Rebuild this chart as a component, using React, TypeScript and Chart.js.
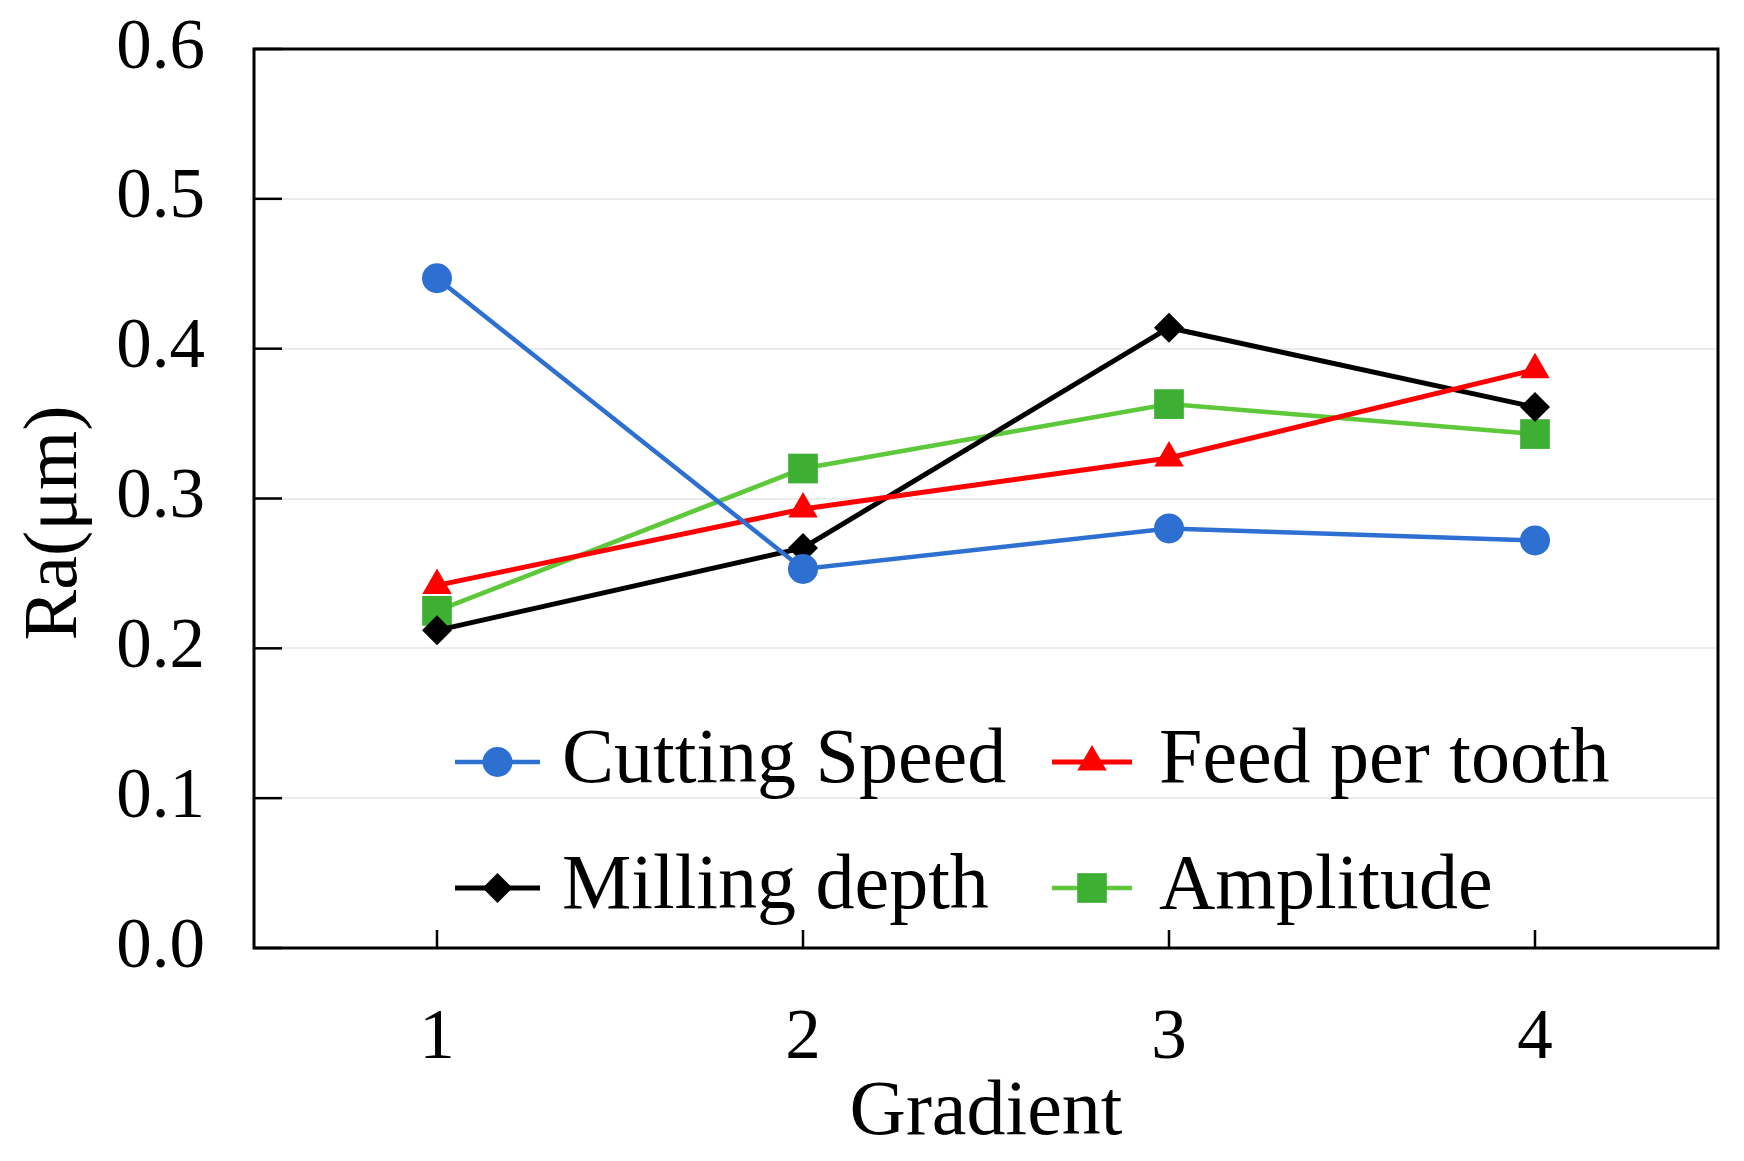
import React, { useEffect, useRef } from 'react';
import { Chart, registerables } from 'chart.js';

Chart.register(...registerables);

const categories = ['1', '2', '3', '4'];
const cuttingSpeed = [0.447, 0.253, 0.28, 0.272];
const feedPerTooth = [0.242, 0.293, 0.327, 0.386];
const millingDepth = [0.212, 0.267, 0.414, 0.361];
const amplitude = [0.225, 0.32, 0.363, 0.343];
const seriesNames = ['Cutting Speed', 'Feed per tooth', 'Milling depth', 'Amplitude'];
const yTitle = 'Ra(μm)';
const xTitle = 'Gradient';

const FONT = '"Liberation Serif", "Times New Roman", serif';

function drawMarker(ctx: CanvasRenderingContext2D, style: string, x: number, y: number, r: number, color: string) {
  ctx.save();
  ctx.fillStyle = color;
  ctx.beginPath();
  if (style === 'circle') {
    ctx.arc(x, y, r, 0, Math.PI * 2);
  } else if (style === 'triangle') {
    let rad = 0;
    ctx.moveTo(x + Math.sin(rad) * r, y - Math.cos(rad) * r);
    rad += (2 * Math.PI) / 3;
    ctx.lineTo(x + Math.sin(rad) * r, y - Math.cos(rad) * r);
    rad += (2 * Math.PI) / 3;
    ctx.lineTo(x + Math.sin(rad) * r, y - Math.cos(rad) * r);
    ctx.closePath();
  } else if (style === 'rectRot') {
    ctx.moveTo(x, y - r);
    ctx.lineTo(x + r, y);
    ctx.lineTo(x, y + r);
    ctx.lineTo(x - r, y);
    ctx.closePath();
  } else {
    const s = Math.SQRT1_2 * r;
    ctx.rect(x - s, y - s, 2 * s, 2 * s);
  }
  ctx.fill();
  ctx.restore();
}

const framePlugin = {
  id: 'frame',
  beforeDatasetsDraw(chart: any) {
    const { ctx, chartArea, scales } = chart;
    const { left, right, top, bottom } = chartArea;
    ctx.save();
    ctx.strokeStyle = '#000';
    ctx.lineWidth = 2.5;
    scales.y.ticks.forEach((t: any) => {
      const py = scales.y.getPixelForValue(t.value);
      ctx.beginPath();
      ctx.moveTo(left, py);
      ctx.lineTo(left + 28, py);
      ctx.stroke();
    });
    categories.forEach((_c, i) => {
      const px = scales.x.getPixelForValue(i);
      ctx.beginPath();
      ctx.moveTo(px, bottom);
      ctx.lineTo(px, bottom - 18);
      ctx.stroke();
    });
    ctx.lineWidth = 3;
    ctx.strokeRect(left, top, right - left, bottom - top);
    ctx.restore();
  },
};

const legendPlugin = {
  id: 'innerLegend',
  afterDraw(chart: any) {
    const { ctx } = chart;
    const cols = [
      { x0: 455, x1: 540, tx: 562 },
      { x0: 1052, x1: 1132, tx: 1159 },
    ];
    const rows = [762, 888];
    chart.data.datasets.forEach((ds: any, i: number) => {
      const c = cols[i % 2];
      const y = rows[Math.floor(i / 2)];
      ctx.save();
      ctx.strokeStyle = ds.borderColor;
      ctx.lineWidth = ds.borderWidth;
      ctx.beginPath();
      ctx.moveTo(c.x0, y);
      ctx.lineTo(c.x1, y);
      ctx.stroke();
      drawMarker(ctx, ds.pointStyle, (c.x0 + c.x1) / 2, y, ds.pointRadius, ds.pointBackgroundColor);
      ctx.fillStyle = '#000';
      ctx.font = `78px ${FONT}`;
      ctx.textBaseline = 'middle';
      ctx.textAlign = 'left';
      ctx.fillText(ds.label, c.tx, y);
      ctx.restore();
    });
  },
};

const yTitlePlugin = {
  id: 'yTitle',
  afterDraw(chart: any) {
    const { ctx } = chart;
    ctx.save();
    ctx.translate(56, 523);
    ctx.rotate(-Math.PI / 2);
    ctx.fillStyle = '#000';
    ctx.font = `76px ${FONT}`;
    ctx.textAlign = 'center';
    ctx.textBaseline = 'middle';
    ctx.fillText(yTitle, 0, 0);
    ctx.restore();
  },
};

export default function App() {
  const ref = useRef<HTMLCanvasElement | null>(null);

  useEffect(() => {
    document.body.style.margin = '0';
    if (!ref.current) return;
    const mk = (label: string, data: number[], line: string, fill: string, style: string, r: number, w: number) => ({
      label,
      data,
      borderColor: line,
      backgroundColor: fill,
      pointBackgroundColor: fill,
      pointBorderColor: fill,
      pointBorderWidth: 0,
      pointStyle: style,
      pointRadius: r,
      pointHoverRadius: r,
      borderWidth: w,
      tension: 0,
      fill: false,
    });
    const chart = new Chart(ref.current, {
      type: 'line',
      data: {
        labels: categories,
        datasets: [
          mk(seriesNames[0], cuttingSpeed, '#2e6fd2', '#2e6fd2', 'circle', 15, 4.5),
          mk(seriesNames[1], feedPerTooth, '#ff0000', '#ff0000', 'triangle', 17, 5),
          mk(seriesNames[2], millingDepth, '#000000', '#000000', 'rectRot', 15, 5),
          mk(seriesNames[3], amplitude, '#5cc83a', '#3db034', 'rect', 21, 4.5),
        ],
      },
      options: {
        animation: false,
        responsive: true,
        maintainAspectRatio: false,
        devicePixelRatio: 1,
        layout: { padding: { top: 49, right: 26, left: 0, bottom: 0 } },
        plugins: {
          legend: { display: false },
          tooltip: { enabled: false },
        },
        scales: {
          x: {
            type: 'category',
            offset: true,
            grid: { display: false, drawTicks: false },
            border: { display: false },
            ticks: {
              color: '#000',
              font: { family: FONT, size: 71 },
              padding: 49,
              maxRotation: 0,
              autoSkip: false,
            },
            title: {
              display: true,
              text: xTitle,
              color: '#000',
              font: { family: FONT, size: 78 },
              padding: { top: 0, bottom: 1 },
            },
            afterFit(scale: any) {
              scale.height = 213;
            },
          },
          y: {
            min: 0,
            max: 0.6,
            grid: {
              color: '#ebeded',
              lineWidth: 2,
              drawTicks: true,
              tickLength: 49,
              tickColor: 'rgba(0,0,0,0)',
            },
            border: { display: false },
            ticks: {
              stepSize: 0.1,
              color: '#000',
              font: { family: FONT, size: 71 },
              padding: 0,
              callback: (v: any) => Number(v).toFixed(1),
            },
            afterFit(scale: any) {
              scale.width = 254;
            },
          },
        },
      } as any,
      plugins: [framePlugin, legendPlugin, yTitlePlugin],
    });
    return () => chart.destroy();
  }, []);

  return (
    <div style={{ width: '1744px', height: '1161px', position: 'relative' }}>
      <canvas ref={ref} />
    </div>
  );
}
